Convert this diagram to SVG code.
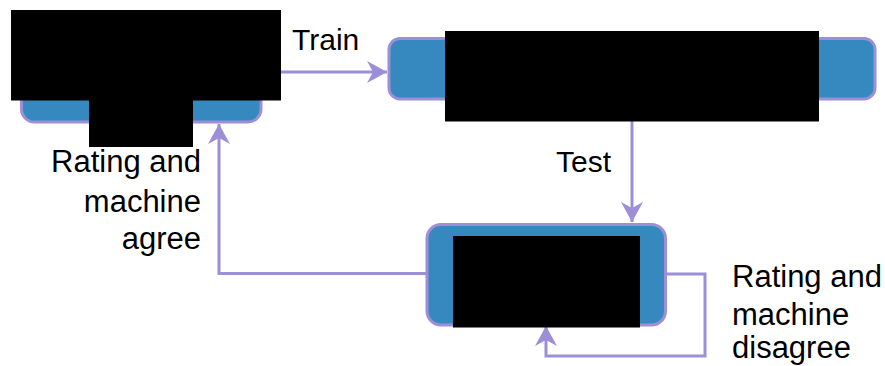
<svg xmlns="http://www.w3.org/2000/svg" width="885" height="366" viewBox="0 0 885 366">
  <style>
    .node { fill: #3689bf; stroke: #9c8fd8; stroke-width: 3; }
    .conn { fill: none; stroke: #9c8fd8; stroke-width: 3; }
    .lbl { font-family: "Liberation Sans", Arial, sans-serif; font-size: 30px; fill: #000; }
    .side { font-size: 31px; }
    .redact { fill: #000; }
  </style>
  <defs>
    <marker id="arrow" markerUnits="userSpaceOnUse" markerWidth="22" markerHeight="22" viewBox="0 0 22 22" refX="20" refY="11" orient="auto">
      <path d="M0,0 L20,11 L0,22 L6,11 z" fill="#9c8fd8"/>
    </marker>
  </defs>
  <g id="connectors">
    <path class="conn" d="M260,72 H387" marker-end="url(#arrow)"/>
    <path class="conn" d="M632,99 V222" marker-end="url(#arrow)"/>
    <path class="conn" d="M427,273.5 H219 V124" marker-end="url(#arrow)"/>
    <path class="conn" d="M666,274 H705 V356 H546 V326" marker-end="url(#arrow)"/>
  </g>
  <g id="node1">
    <rect class="node" x="21.5" y="22" width="239.5" height="100" rx="13"/>
  </g>
  <g id="node2">
    <rect class="node" x="389" y="38.5" width="486" height="60.5" rx="11"/>
  </g>
  <g id="node3">
    <rect class="node" x="427" y="224.5" width="238.5" height="100.5" rx="14"/>
  </g>
  <g id="labels">
    <text class="lbl" x="292" y="50">Train</text>
    <text class="lbl" x="556" y="172">Test</text>
    <text class="lbl side" text-anchor="end" x="201" y="172">Rating and</text>
    <text class="lbl side" text-anchor="end" x="201" y="212">machine</text>
    <text class="lbl side" text-anchor="end" x="201" y="249">agree</text>
    <text class="lbl side" x="732" y="287">Rating and</text>
    <text class="lbl side" x="732" y="325">machine</text>
    <text class="lbl side" x="732" y="358">disagree</text>
  </g>
  <g id="redactions">
    <rect class="redact" x="11" y="10" width="270" height="90.5"/>
    <rect class="redact" x="89" y="100" width="104" height="47"/>
    <rect class="redact" x="445" y="31" width="374" height="90.5"/>
    <rect class="redact" x="453" y="236" width="187" height="91.5"/>
  </g>
</svg>
